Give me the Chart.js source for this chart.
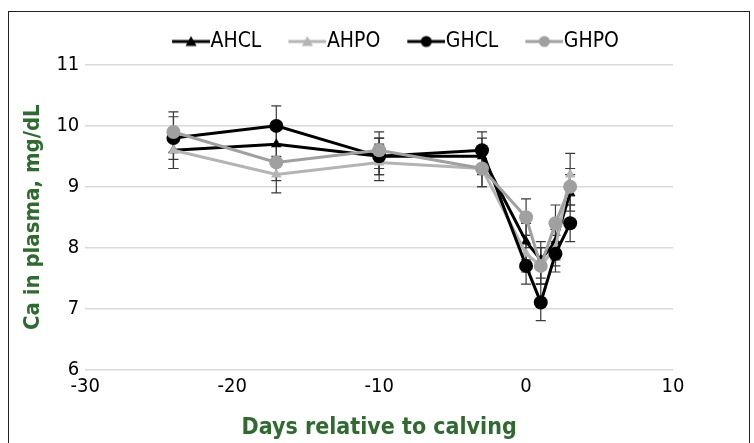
<!DOCTYPE html>
<html>
<head>
<meta charset="utf-8">
<script src="https://cdn.jsdelivr.net/npm/chart.js@4"></script>
<style>
  html, body { margin: 0; padding: 0; background: #fff; }
  #wrap { position: relative; width: 754px; height: 443px; overflow: hidden; }
  #frame { position: absolute; left: 8px; top: 11px; width: 742px; height: 440px; border: 1.5px solid #222; box-sizing: border-box; }
  #chart { position: absolute; left: 0; top: 0; }
</style>
</head>
<body>
<div id="wrap">
  <div id="frame"></div>
  <canvas id="chart" width="754" height="443"></canvas>
</div>
<script>
// days relative to calving
const days = [-24, -17, -10, -3, 0, 1, 2, 3];

const ahcl = [9.6, 9.7, 9.5, 9.5, 8.1, 7.8, 8.1, 8.9];
const ahpo = [9.6, 9.2, 9.4, 9.3, 7.9, 7.7, 8.0, 9.2];
const ghcl = [9.8, 10.0, 9.5, 9.6, 7.7, 7.1, 7.9, 8.4];
const ghpo = [9.9, 9.4, 9.6, 9.3, 8.5, 7.7, 8.4, 9.0];

// standard errors
const ahclErr = [0.3, 0.3, 0.3, 0.3, 0.3, 0.3, 0.3, 0.3];
const ahpoErr = [0.3, 0.3, 0.3, 0.3, 0.3, 0.3, 0.3, 0.35];
const ghclErr = [0.35, 0.33, 0.3, 0.3, 0.3, 0.3, 0.3, 0.3];
const ghpoErr = [0.33, 0.3, 0.3, 0.3, 0.3, 0.3, 0.3, 0.3];

const xTicks = [-30, -20, -10, 0, 10];
const yTicks = [6, 7, 8, 9, 10, 11];

const green = "#2E6B2E";
const family = "'DejaVu Sans Condensed', 'DejaVu Sans', sans-serif";
const cond = "condensed";

function pts(vals) {
  return vals.map((v, i) => ({ x: days[i], y: v }));
}

// legend swatch: short line with the marker, pushed right so it touches the text
function swatch(color, style) {
  const c = document.createElement("canvas");
  c.width = 58; c.height = 14;
  const g = c.getContext("2d");
  g.strokeStyle = color; g.fillStyle = color; g.lineWidth = 3;
  g.beginPath(); g.moveTo(20, 7); g.lineTo(58, 7); g.stroke();
  g.beginPath();
  if (style === "triangle") {
    g.moveTo(39, 1.5); g.lineTo(44.5, 11.5); g.lineTo(33.5, 11.5); g.closePath();
  } else {
    g.arc(39, 7, 5.5, 0, Math.PI * 2);
  }
  g.fill();
  return c;
}

const series = [
  { label: "AHCL", data: ahcl, err: ahclErr, color: "#000000", style: "triangle", r: 6, order: 4 },
  { label: "AHPO", data: ahpo, err: ahpoErr, color: "#B4B4B4", style: "triangle", r: 6, order: 3 },
  { label: "GHCL", data: ghcl, err: ghclErr, color: "#000000", style: "circle", r: 7, order: 2 },
  { label: "GHPO", data: ghpo, err: ghpoErr, color: "#A0A0A0", style: "circle", r: 7, order: 1 }
];

const errorBars = {
  id: "errorBars",
  beforeDatasetsDraw(chart) {
    const ctx = chart.ctx;
    const xs = chart.scales.x, ys = chart.scales.y;
    ctx.save();
    ctx.strokeStyle = "#3A3A3A";
    ctx.lineWidth = 1.2;
    series.forEach(s => {
      s.data.forEach((v, i) => {
        const px = xs.getPixelForValue(days[i]);
        const top = ys.getPixelForValue(v + s.err[i]);
        const bot = ys.getPixelForValue(v - s.err[i]);
        ctx.beginPath();
        ctx.moveTo(px, top); ctx.lineTo(px, bot);
        ctx.moveTo(px - 5, top); ctx.lineTo(px + 5, top);
        ctx.moveTo(px - 5, bot); ctx.lineTo(px + 5, bot);
        ctx.stroke();
      });
    });
    ctx.restore();
  }
};

// nudge the legend box to where it sits in the original
const legendShift = {
  id: "legendShift",
  afterUpdate(chart) {
    const lg = chart.legend;
    if (!lg) return;
    lg.left += 44; lg.right += 44;
    lg.top -= 3; lg.bottom -= 3;
  }
};

new Chart(document.getElementById("chart"), {
  type: "line",
  data: {
    datasets: series.map(s => ({
      label: s.label,
      data: pts(s.data),
      borderColor: s.color,
      backgroundColor: s.color,
      borderWidth: 3,
      pointStyle: s.style,
      pointRadius: s.r,
      pointHoverRadius: s.r,
      pointBorderWidth: 0,
      tension: 0,
      order: s.order,
      legendIcon: swatch(s.color, s.style)
    }))
  },
  options: {
    responsive: false,
    animation: false,
    layout: { padding: { left: 20, right: 81, top: 17, bottom: 1 } },
    plugins: {
      tooltip: { enabled: false },
      legend: {
        position: "top",
        labels: {
          usePointStyle: true,
          pointStyleWidth: 38,
          padding: 17,
          color: "#000",
          font: { family: family, style: cond, size: 21 },
          generateLabels(chart) {
            return chart.data.datasets.map((d, i) => ({
              text: d.label,
              pointStyle: d.legendIcon,
              fillStyle: d.borderColor,
              strokeStyle: d.borderColor,
              lineWidth: 0,
              hidden: false,
              datasetIndex: i
            }));
          }
        }
      }
    },
    scales: {
      x: {
        type: "linear",
        min: -30,
        max: 10,
        afterBuildTicks(axis) { axis.ticks = xTicks.map(v => ({ value: v })); },
        grid: { display: false },
        border: { display: false },
        ticks: { color: "#000", font: { family: family, style: cond, size: 20 }, padding: -3 },
        title: { display: true, text: "Days relative to calving", color: green, font: { family: family, style: cond, size: 23, weight: "bold" }, padding: { top: 19, bottom: 0 } }
      },
      y: {
        min: 6,
        max: 11,
        afterBuildTicks(axis) { axis.ticks = yTicks.map(v => ({ value: v })); },
        grid: { color: "#D9D9D9", lineWidth: 1.5, drawTicks: false },
        border: { display: false },
        ticks: { color: "#000", font: { family: family, style: cond, size: 20 }, padding: 6 },
        title: { display: true, text: "Ca in plasma, mg/dL", color: green, font: { family: family, style: cond, size: 22, weight: "bold" }, padding: { top: 0, bottom: 4 } }
      }
    }
  },
  plugins: [errorBars, legendShift]
});
</script>
</body>
</html>
